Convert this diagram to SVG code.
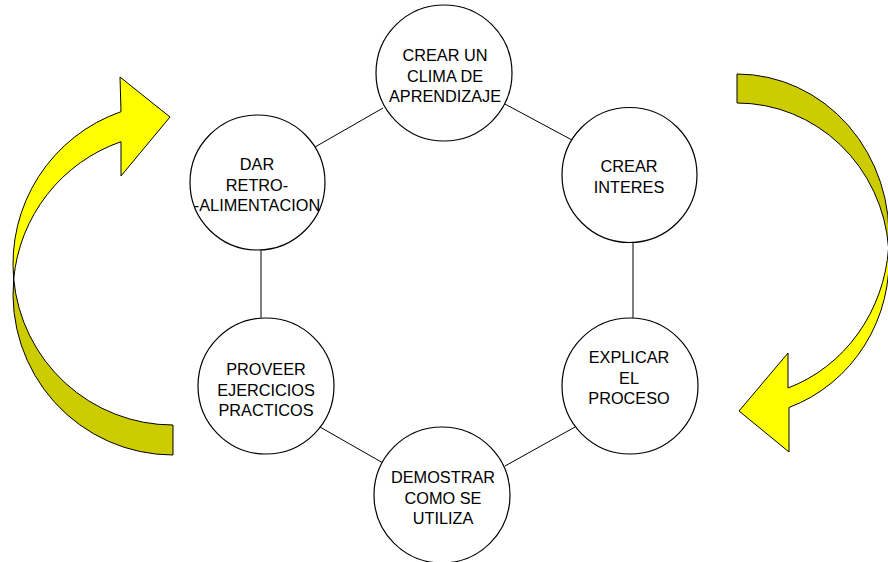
<svg xmlns="http://www.w3.org/2000/svg" width="888" height="562" viewBox="0 0 888 562">
<style>
  .node circle { fill: #ffffff; stroke: #000000; stroke-width: 1.2; }
  .node text { font-family: "Liberation Sans", Arial, sans-serif; font-size: 16.3px; fill: #000000; text-anchor: middle; }
  .conn line { stroke: #000000; stroke-width: 1; }
  .front { fill: #ffff00; stroke: #000000; stroke-width: 1; stroke-linejoin: round; }
  .back { fill: #cccc00; stroke: #000000; stroke-width: 1; stroke-linejoin: round; }
</style>
<rect width="888" height="562" fill="#ffffff"/>

<g id="arrow-left">
  <path class="back" d="M13.7 279 A160 161 0 0 0 173 425 L173 455 A160 161 0 0 1 13.7 279 Z"/>
  <path class="front" d="M13.7 279 A160 161 0 0 1 121 111.7 L120 77 L170 117 L121 176 L121 141.7 A160 161 0 0 0 13.7 279 Z"/>
</g>
<g id="arrow-right">
  <path class="back" d="M737 74 A152 161.7 0 0 1 888.6 248 A152 157 0 0 0 737 103 Z"/>
  <path class="front" d="M888.6 248 A152 157 0 0 1 789 407.5 L789 452 L739 411 L788 353 L788 388 A152 161.7 0 0 0 888.6 248 Z"/>
</g>

<g id="connectors" class="conn">
  <line x1="383" y1="108" x2="315" y2="147"/>
  <line x1="503" y1="103" x2="572" y2="140"/>
  <line x1="261" y1="250" x2="261" y2="318"/>
  <line x1="633" y1="242" x2="633" y2="318"/>
  <line x1="320" y1="427" x2="383" y2="463"/>
  <line x1="505" y1="466" x2="575" y2="427"/>
</g>

<g id="node-clima" class="node">
  <circle cx="444" cy="73" r="68"/>
  <text x="445" y="61">CREAR UN</text>
  <text x="445" y="81.5">CLIMA DE</text>
  <text x="445" y="102">APRENDIZAJE</text>
</g>
<g id="node-retro" class="node">
  <circle cx="257.5" cy="182.5" r="67.5"/>
  <text x="257" y="170">DAR</text>
  <text x="257" y="190.5">RETRO-</text>
  <text x="257" y="211">-ALIMENTACION</text>
</g>
<g id="node-interes" class="node">
  <circle cx="629.5" cy="175" r="67.5"/>
  <text x="629" y="172">CREAR</text>
  <text x="629" y="192.5">INTERES</text>
</g>
<g id="node-ejercicios" class="node">
  <circle cx="266" cy="386" r="68"/>
  <text x="266" y="375">PROVEER</text>
  <text x="266" y="395.5">EJERCICIOS</text>
  <text x="266" y="416">PRACTICOS</text>
</g>
<g id="node-proceso" class="node">
  <circle cx="630" cy="386" r="68"/>
  <text x="629" y="363">EXPLICAR</text>
  <text x="629" y="383.5">EL</text>
  <text x="629" y="404">PROCESO</text>
</g>
<g id="node-demostrar" class="node">
  <circle cx="442" cy="495" r="68"/>
  <text x="443" y="483">DEMOSTRAR</text>
  <text x="443" y="503.5">COMO SE</text>
  <text x="443" y="524">UTILIZA</text>
</g>
</svg>
